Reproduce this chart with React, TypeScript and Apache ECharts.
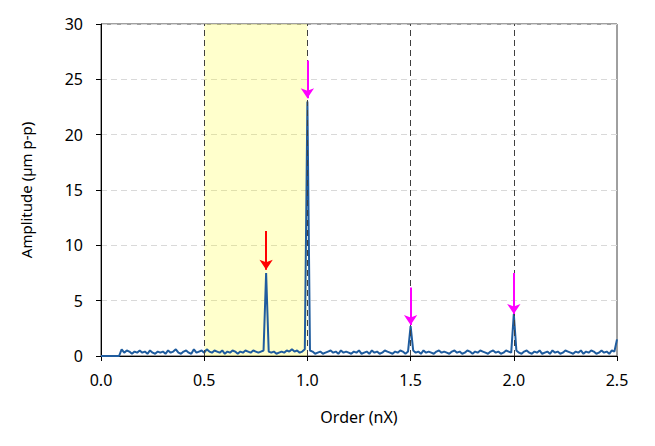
import React, { useEffect, useRef } from "react";
import * as echarts from "echarts";

const ORDER_STEP = 0.0125;
const amplitude: number[] = [
  0, 0, 0, 0, 0, 0, 0, 0,
  0.6, 0.3, 0.5, 0.4, 0.2, 0.4, 0.3, 0.5, 0.3, 0.4, 0.2, 0.5, 0.3, 0.2, 0.4, 0.3,
  0.4, 0.2, 0.5, 0.3, 0.4, 0.6, 0.3, 0.2, 0.4, 0.5, 0.3, 0.2, 0.6, 0.3, 0.4, 0.5,
  0.3, 0.6, 0.4, 0.3, 0.5, 0.4, 0.3, 0.5, 0.2, 0.4, 0.3, 0.5, 0.4, 0.2, 0.4, 0.3,
  0.5, 0.4, 0.3, 0.5, 0.4, 0.3, 0.4, 0.5,
  7.5,
  0.4, 0.3, 0.4, 0.2, 0.3, 0.4, 0.3, 0.5, 0.4, 0.6, 0.4, 0.5, 0.3, 0.4, 0.6,
  23.0,
  0.5, 0.4, 0.2, 0.3, 0.4, 0.2, 0.3, 0.4, 0.5, 0.3, 0.4, 0.2, 0.5, 0.3, 0.4,
  0.3, 0.2, 0.4, 0.3, 0.5, 0.2, 0.3, 0.4, 0.2, 0.5, 0.3, 0.4, 0.2, 0.3, 0.5, 0.4,
  0.3, 0.2, 0.4, 0.3, 0.5, 0.4, 0.2, 0.4,
  2.7,
  0.5, 0.3, 0.4, 0.2, 0.5, 0.3, 0.4, 0.3, 0.2, 0.4, 0.5, 0.3, 0.4, 0.3, 0.2, 0.4,
  0.5, 0.3, 0.4, 0.2, 0.3, 0.5, 0.4, 0.2, 0.4, 0.3, 0.5, 0.4, 0.3, 0.2, 0.4, 0.5,
  0.3, 0.4, 0.2, 0.3, 0.5, 0.4, 0.3,
  3.8,
  0.5, 0.3, 0.2, 0.4, 0.5, 0.3, 0.2, 0.4, 0.3, 0.5, 0.2, 0.3, 0.4, 0.2, 0.5, 0.3,
  0.4, 0.2, 0.3, 0.5, 0.4, 0.3, 0.2, 0.4, 0.3, 0.5, 0.2, 0.4, 0.3, 0.5, 0.4, 0.2,
  0.3, 0.5, 0.3, 0.4, 0.2, 0.5, 0.4,
  1.5,
];

const refLines: number[] = [0.5, 1.0, 1.5, 2.0];
const bandRange: [number, number] = [0.5, 1.0];

// arrows: order, start value, tip value, colour
const arrowOrders: number[] = [0.8, 1.0, 1.5, 2.0];
const arrowFrom: number[] = [11.3, 26.7, 6.2, 7.5];
const arrowTo: number[] = [7.8, 23.3, 2.8, 3.8];
const arrowColors: string[] = ["#FF0000", "#FF00FF", "#FF00FF", "#FF00FF"];

const FONT = "Noto Sans";

export default function App() {
  const ref = useRef<HTMLDivElement>(null);
  useEffect(() => {
    if (!ref.current) return;
    const chart = echarts.init(ref.current, undefined, { renderer: "svg" });
    const data = amplitude.map((v, i) => [i * ORDER_STEP, v]);
    chart.setOption({
      animation: false,
      backgroundColor: "#ffffff",
      textStyle: { fontFamily: FONT },
      grid: {
        left: 101,
        right: 38,
        top: 24,
        bottom: 90,
        show: true,
        borderColor: "#404040",
        borderWidth: 1,
        backgroundColor: "transparent",
      },
      xAxis: {
        type: "value",
        min: 0,
        max: 2.5,
        interval: 0.5,
        name: "Order (nX)",
        nameLocation: "middle",
        nameGap: 53,
        nameTextStyle: { fontSize: 16, color: "#000", fontFamily: FONT },
        axisLine: { show: true, onZero: false, lineStyle: { color: "#000", width: 1 } },
        axisTick: { show: true, inside: false, length: 5, lineStyle: { color: "#000" } },
        axisLabel: {
          fontSize: 16,
          color: "#000",
          margin: 16,
          fontFamily: FONT,
          formatter: (v: number) => v.toFixed(1),
        },
        splitLine: { show: false },
      },
      yAxis: {
        type: "value",
        min: 0,
        max: 30,
        interval: 5,
        name: "Amplitude (µm p-p)",
        nameLocation: "middle",
        nameGap: 68,
        nameTextStyle: { fontSize: 15, color: "#000", fontFamily: FONT },
        axisLine: { show: true, lineStyle: { color: "#000", width: 1 } },
        axisTick: { show: true, inside: false, length: 5, lineStyle: { color: "#000" } },
        axisLabel: { fontSize: 16, color: "#000", margin: 18, fontFamily: FONT },
        splitLine: { show: true, lineStyle: { color: "#d9d9d9", type: [6, 4], width: 1 } },
      },
      series: [
        {
          type: "line",
          data: [],
          silent: true,
          z: 1,
          markArea: {
            silent: true,
            itemStyle: { color: "rgba(255,255,0,0.2)" },
            data: [[{ xAxis: bandRange[0] }, { xAxis: bandRange[1] }]],
          },
          markLine: {
            silent: true,
            symbol: ["none", "none"],
            label: { show: false },
            lineStyle: { color: "#404040", type: [6, 4], width: 1 },
            data: refLines.map((x) => ({ xAxis: x })),
          },
        },
        {
          type: "line",
          data,
          showSymbol: false,
          symbol: "none",
          z: 3,
          lineStyle: { color: "#1F5C9E", width: 2 },
          itemStyle: { color: "#1F5C9E" },
        },
        {
          type: "line",
          data: [],
          z: 4,
          markLine: {
            silent: true,
            symbol: ["none", "arrow"],
            symbolSize: [10, 10],
            label: { show: false },
            data: arrowOrders.map((x, i) => [
              { coord: [x, arrowFrom[i]], lineStyle: { color: arrowColors[i], width: 2, type: "solid" } },
              { coord: [x, arrowTo[i]] },
            ]),
          },
        },
      ],
    });
    return () => chart.dispose();
  }, []);
  return (
    <div
      ref={ref}
      style={{ position: "absolute", left: 0, top: 0, width: 655, height: 446 }}
    />
  );
}
